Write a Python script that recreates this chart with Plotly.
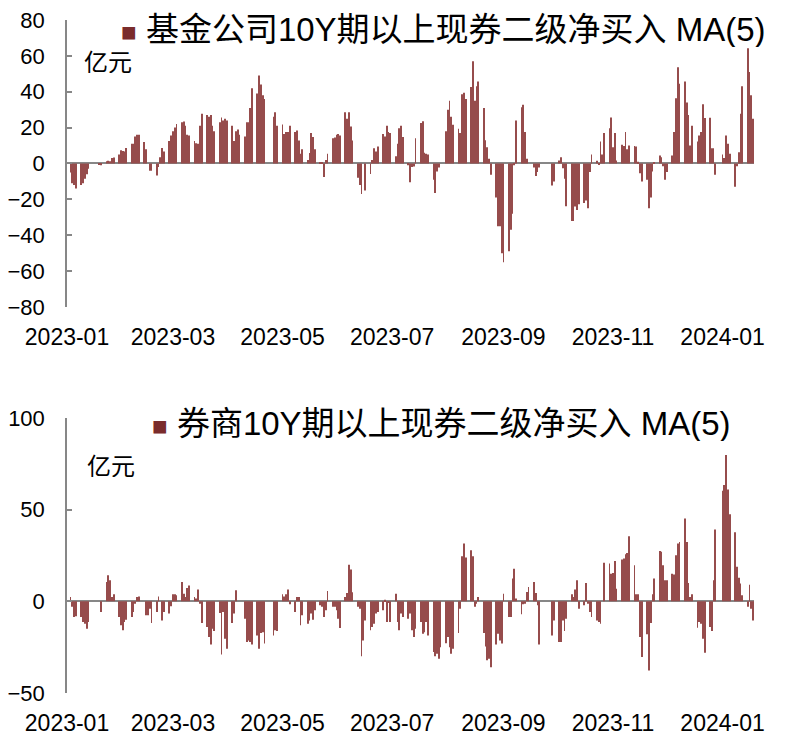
import pandas as pd
import plotly.graph_objects as go

# weekdays from 2023-01-02 to 2024-01-18 (one row of values per week below)
dates = pd.bdate_range("2023-01-02", "2024-01-18")

# 基金公司 10Y期以上现券二级净买入 MA(5), 亿元
fund_vals = [
    0, -5, -11, -12, -14,
    -12, -11, -8.5, -6, -3,
    0, 0, 0, -0.5, -1,
    1.3, 1.5, 1.2, 3, 3.3,
    5, 7.4, 7, 6.7, 8.7,
    11, 11, 15, 16, 16,
    12, 8, 0, -4, -4,
    -6.7, -2, 3.5, 8.7, 6.7,
    12.5, 15.6, 18, 20, 22,
    23, 23.4, 21, 16, 15.6,
    12.6, 11.3, 11, 21, 27.7,
    27, 26, 27, 21, 18,
    23, 25.6, 24, 25, 24,
    21, 12.5, 18, 19, 16,
    15, 23, 23, 31, 42,
    39, 49, 44, 38, 36,
    0, 0, 26, 28.6, 21,
    21.7, 16.5, 17.5, 17.5, 21,
    17.5, 18.4, 12.8, 5.4, 8,
    2, 5.8, 17, 14.7, 8,
    0.5, 0.7, -7.6, 2, 5.4,
    14, 14.5, 16, 16.4, 15.6,
    28.6, 25, 28.6, 20.6, 12.8,
    -8, -12, -17, 0, -15,
    -5.8, 2, 8.5, 6.7, 9.5,
    16.5, 15, 21, 17.5, 17,
    4, 11, 19.7, 21, 14.7,
    -1, -10.4, -2, -1.7, 14,
    22.6, 23.6, 6, 5.4, 5,
    -9, -16.5, -4.5, -2.2, 0,
    18, 30, 35, 26, 21.6,
    19.3, 17, 38.6, 39.4, 36,
    42.6, 57, 35, 43, 45.7,
    30.9, 13, 9, 2.6, -6.3,
    -19, -35, -35, -50, -55,
    -49, -37, -28, -1, 24,
    31.4, 32.7, 17.5, 2.6, 0,
    -2.2, -7, -4.8, -2.2, 0,
    0, 0, 0, -12.3, -10,
    1.7, 3.5, -2.6, -8.5, -23.8,
    -32, -32, -24, -26, -22.7,
    -22, -20.6, -25, -4.8, 5,
    1.5, -0.7, 12.3, 5, 17,
    19.7, 25.6, 9, 17, 1.7,
    10.4, 9.7, 17.5, 8, 10,
    9.7, 9.5, 1, -5.4, -10,
    -9, -25, -19, -4.5, 0.7,
    4.5, 3.5, -1.5, -9, -4.8,
    4.5, 17.5, 36.4, 53.7, 44.4,
    45.7, 34, 27, 10, 21,
    12.3, 15.6, 17.5, 33, 25.3,
    25.5, 8.5, 8.5, -6.3, 0,
    5, 3, 15.6, 11, 5.4,
    -13, -1.5, 6.3, 27.7, 43,
    64.3, 51, 38, 25,
]

# 券商 10Y期以上现券二级净买入 MA(5), 亿元
broker_vals = [
    0, 2.4, -3, -8.6, -8.2,
    -8.6, -11.3, -12.2, -15, -11.3,
    0, 0, 0, 0, -5.8,
    10.6, 14.2, 11.5, 2.4, 3.8,
    -8.6, -13, -15.8, -11.3, -10,
    -8.6, -5.8, -1.3, 2.4, 2.7,
    0, -7.6, -7.6, -4, -11.8,
    -5.8, 2.7, 0, -10.4, -5.8,
    -6.7, -2.7, 3.8, 3.8, 3.3,
    10.6, 4.2, 2.4, 7.3, 8.7,
    2.4, 1.5, 6.4, -1.3, -11.8,
    -14, -19.5, -23.5, -15, -16.2,
    -6.4, -29, -5.8, -20.4, -25.9,
    -11.8, -6.7, 6, 0, 0,
    -9.5, -22.2, -21.3, -22.2, -23.5,
    -18.6, -25.9, -17.3, -16.8, -23,
    0, 0, -18.6, -15.8, -16.2,
    3.8, 2.7, 3.8, 6.4, -1.6,
    -5.8, 2.4, 2.4, -13, -7.6,
    -12.2, -10.4, -6.7, -10, -4.9,
    -2.2, -3, -8.6, -4.9, 5.6,
    -3, -3, -4.9, -9.5, -14.6,
    2.4, 4.5, 20, 17.3, 5,
    -3, -4, -30, -21.3, -10.4,
    -15.8, -14, -12.2, -6.7, -5.8,
    -4.9, 0.9, -11.3, -0.4, -11.3,
    4.2, -11.3, -15.8, -6.7, -8.6,
    -9.5, -6.7, -15.8, -19.5, -15,
    -11.3, -17.7, -16.8, -11.3, -18.6,
    -27.7, -30, -28.6, -31.3, -25,
    -22.8, -19.5, -25, -28.6, -25.9,
    -17.3, -4, 24.6, 31.5, 23.9,
    27.9, 24.6, -3, -1.3, 2.4,
    -17.3, -24.6, -32.2, -31.3, -35.9,
    -23.5, -17.7, -21.3, -23, 4.2,
    -8.6, -8.6, 12.4, 17.8, 1.5,
    -7.1, -1.6, -1.3, 5.1, 7.8,
    10.6, 4.5, -2.2, -23.5, 0,
    0, 0, 0, -18.6, -10.4,
    -22.2, -22.2, -10.4, -16.2, -9.5,
    3.8, 2.4, 6.4, 11.5, -4,
    -2.2, 10, -1.3, -5.8, -8.6,
    -10.4, -11.3, -12.2, 0, 21,
    20.6, 15.1, 15.5, 22, 6.9,
    22.8, 23.3, 25.7, 26.4, 35.5,
    19.7, 3.8, 3.8, -19.5, -30.4,
    -18, -37.7, -11.8, 3.8, 12.4,
    27.5, 27, 19.7, 11.5, 11.5,
    15.1, 14.6, 25.1, 31.5, 32.4,
    45.2, 32.4, 10, 2.4, 3.8,
    -14.4, -11.3, -12.2, -20.4, -28,
    -14, -16.2, 11.5, 39.2, 0,
    60.3, 63.4, 79.8, 61, 47.5,
    37.7, 18.8, 12.9, 9.7, 3.3,
    -3, 9.1, -4, -10.4,
]

fund_name = "基金公司10Y期以上现券二级净买入 MA(5)"
broker_name = "券商10Y期以上现券二级净买入 MA(5)"
month_ticks = ["2023-01-01", "2023-03-01", "2023-05-01", "2023-07-01",
               "2023-09-01", "2023-11-01", "2024-01-01"]

bar_color = "#7A2C2C"
bar_fill = "#964C4C"
axis_gray = "#878787"
tick_font = dict(family="Liberation Sans, Noto Sans CJK SC", size=22, color="black")
bar_w = 0.45 * 86400000

fig = go.Figure()
fig.add_trace(go.Bar(x=dates, y=fund_vals, name=fund_name, width=bar_w,
                     marker=dict(color=bar_fill, line=dict(width=0)),
                     xaxis="x", yaxis="y"))
fig.add_trace(go.Bar(x=dates, y=broker_vals, name=broker_name, width=bar_w,
                     marker=dict(color=bar_fill, line=dict(width=0)),
                     xaxis="x2", yaxis="y2"))

xcommon = dict(
    range=["2023-01-01", "2024-01-18 12:00"],
    tickvals=month_ticks, tickformat="%Y-%m", automargin=False,
    showline=False, showgrid=False, zeroline=False, ticks="",
    ticklabelstandoff=14, tickfont=dict(tick_font, size=23),
)
ycommon = dict(
    showline=True, linecolor=axis_gray, linewidth=1.5, automargin=False,
    ticks="inside", ticklen=5, tickcolor=axis_gray, tickwidth=1.5,
    showgrid=False, zeroline=True, zerolinecolor=axis_gray, zerolinewidth=1.5,
    ticklabelstandoff=16, ticklabeloverflow="allow", tickfont=tick_font,
)


def title_text(name):
    # legend-like title: coloured square followed by the series name
    return (f'<span style="color:{bar_color};font-size:26px">■</span> {name}')


title_font = dict(family="Liberation Sans, Noto Sans CJK SC", size=33, color="black")
unit_font = dict(family="Noto Sans CJK SC", size=24, color="black")

# the page body adds an 8px offset, so the figure is 8px smaller each way
fig.update_layout(
    width=779, height=734,
    margin=dict(l=59, r=33, t=12, b=49),
    paper_bgcolor="white", plot_bgcolor="white",
    showlegend=False,
    xaxis=dict(xcommon, anchor="y"),
    yaxis=dict(ycommon, domain=[0.5736, 1], range=[-80, 80], dtick=20),
    xaxis2=dict(xcommon, anchor="y2"),
    yaxis2=dict(ycommon, domain=[0, 0.4086], range=[-50, 100], dtick=50),
    annotations=[
        dict(text=title_text(fund_name), x=0.0757, y=0.9866, height=36,
             xref="paper", yref="paper", xanchor="left", yanchor="middle",
             showarrow=False, font=title_font),
        dict(text=title_text(broker_name), x=0.1208, y=0.401, height=36,
             xref="paper", yref="paper", xanchor="left", yanchor="middle",
             showarrow=False, font=title_font),
        dict(text="亿元", x=0.0218, y=0.9405, height=26, xref="paper", yref="paper",
             xanchor="left", yanchor="middle", showarrow=False, font=unit_font),
        dict(text="亿元", x=0.026, y=0.340, height=26, xref="paper", yref="paper",
             xanchor="left", yanchor="middle", showarrow=False, font=unit_font),
    ],
)

fig.write_html("out.html")
